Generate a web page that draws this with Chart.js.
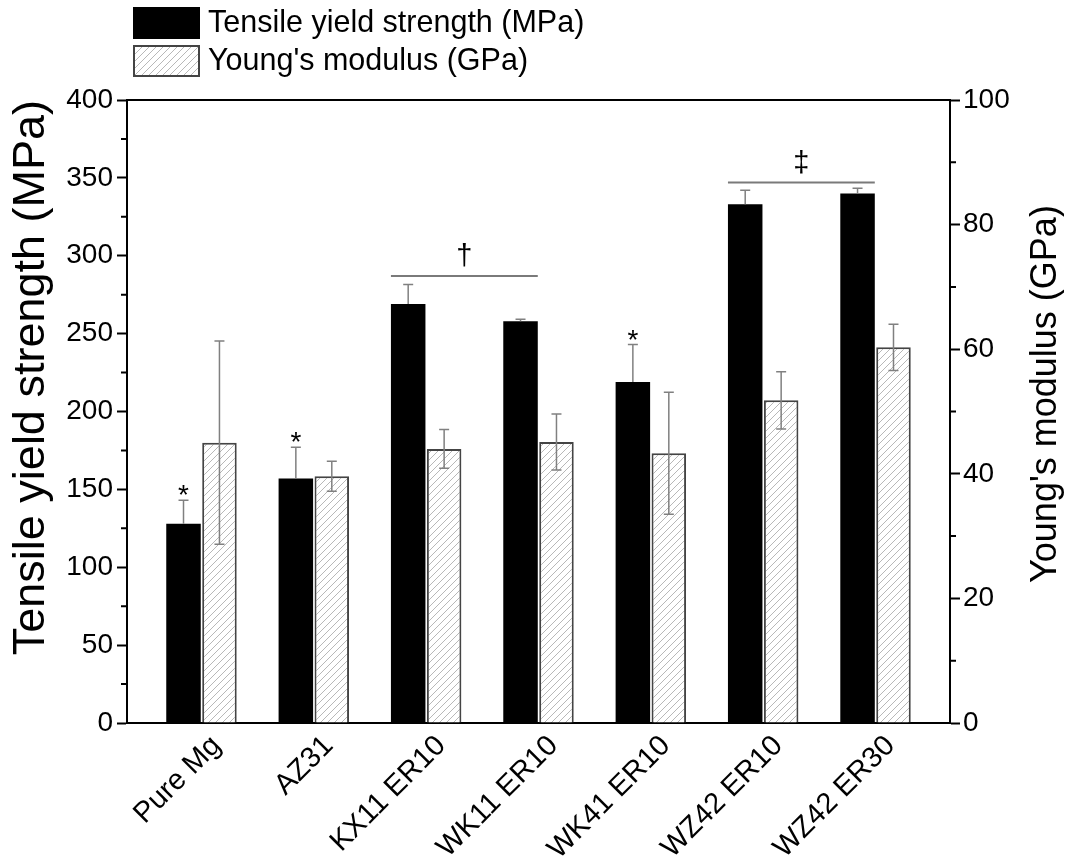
<!DOCTYPE html>
<html>
<head>
<meta charset="utf-8">
<script src="https://cdn.jsdelivr.net/npm/chart.js@4.4.0/dist/chart.umd.min.js"></script>
<style>
  html, body { margin: 0; padding: 0; background: #fff; }
  #wrap { width: 1070px; height: 860px; }
</style>
</head>
<body>
<div id="wrap"><canvas id="chart" width="1070" height="860"></canvas></div>
<script>
// data
const categories = ['Pure Mg', 'AZ31', 'KX11 ER10', 'WK11 ER10', 'WK41 ER10', 'WZ42 ER10', 'WZ42 ER30'];
const strength = [128, 157, 269, 258, 219, 333, 340];        // MPa
const strengthErr = [15, 20, 12.5, 1.3, 24, 9, 3.3];
const modulus = [45, 39.6, 44, 45.1, 43.3, 51.8, 60.3];      // GPa
const modulusErr = [16.3, 2.4, 3.1, 4.5, 9.8, 4.6, 3.7];
const starIdx = [0, 1, 4];            // '*' over strength bars
const sigFrom = [2, 5];
const sigTo = [3, 6];
const sigLevel = [287, 347];          // MPa
const sigMark = ['\u2020', '\u2021'];

const FONT = "'Liberation Sans', Arial, sans-serif";
const canvas = document.getElementById('chart');
const ctx = canvas.getContext('2d');

function makeHatch() {
  const s = 7;
  const c = document.createElement('canvas');
  c.width = s; c.height = s;
  const g = c.getContext('2d');
  g.fillStyle = '#fff';
  g.fillRect(0, 0, s, s);
  g.strokeStyle = '#b8b8b8';
  g.lineWidth = 1;
  g.beginPath();
  g.moveTo(0, s); g.lineTo(s, 0);
  g.moveTo(-1, 1); g.lineTo(1, -1);
  g.moveTo(s - 1, s + 1); g.lineTo(s + 1, s - 1);
  g.stroke();
  return ctx.createPattern(c, 'repeat');
}
const hatch = makeHatch();

const extras = {
  id: 'extras',
  afterDatasetsDraw(chart) {
    const c = chart.ctx;
    const y = chart.scales.y, y2 = chart.scales.y2;
    const area = chart.chartArea;
    const m0 = chart.getDatasetMeta(0).data;
    const m1 = chart.getDatasetMeta(1).data;
    c.save();

    // error bars
    c.strokeStyle = '#808080';
    c.lineWidth = 1.5;
    m0.forEach((b, i) => {
      const top = y.getPixelForValue(strength[i] + strengthErr[i]);
      c.beginPath();
      c.moveTo(b.x, b.y); c.lineTo(b.x, top);
      c.moveTo(b.x - 5, top); c.lineTo(b.x + 5, top);
      c.stroke();
    });
    m1.forEach((b, i) => {
      const top = y2.getPixelForValue(modulus[i] + modulusErr[i]);
      const bot = y2.getPixelForValue(modulus[i] - modulusErr[i]);
      c.beginPath();
      c.moveTo(b.x, bot); c.lineTo(b.x, top);
      c.moveTo(b.x - 5, top); c.lineTo(b.x + 5, top);
      c.moveTo(b.x - 5, bot); c.lineTo(b.x + 5, bot);
      c.stroke();
    });

    // significance marks
    c.fillStyle = '#000';
    c.textAlign = 'center';
    c.font = '28px ' + FONT;
    c.textBaseline = 'alphabetic';
    starIdx.forEach(i => {
      const b = m0[i];
      const top = y.getPixelForValue(strength[i] + strengthErr[i]);
      c.fillText('*', b.x, top + 4);
    });
    c.strokeStyle = '#7a7a7a';
    c.lineWidth = 2;
    c.font = '29px ' + FONT;
    c.textBaseline = 'bottom';
    sigFrom.forEach((f, k) => {
      const x1 = m0[f].x - m0[f].width / 2;
      const x2 = m0[sigTo[k]].x + m0[sigTo[k]].width / 2;
      const ly = y.getPixelForValue(sigLevel[k]);
      c.beginPath();
      c.moveTo(x1, ly); c.lineTo(x2, ly);
      c.stroke();
      c.fillText(sigMark[k], (x1 + x2) / 2, ly - 4);
    });

    // top frame line and minor ticks
    c.strokeStyle = '#000';
    c.lineWidth = 2;
    c.beginPath();
    c.moveTo(area.left - 1, area.top); c.lineTo(area.right + 1, area.top);
    for (let v = 25; v < 400; v += 50) {
      const p = y.getPixelForValue(v);
      c.moveTo(area.left - 6, p); c.lineTo(area.left, p);
    }
    for (let v = 10; v < 100; v += 20) {
      const p = y2.getPixelForValue(v);
      c.moveTo(area.right, p); c.lineTo(area.right + 6, p);
    }
    c.stroke();

    // right axis title (reads bottom to top)
    c.save();
    c.translate(1046, 394);
    c.rotate(-Math.PI / 2);
    c.textAlign = 'center';
    c.textBaseline = 'middle';
    c.font = '36px ' + FONT;
    c.fillText("Young's modulus (GPa)", 0, 0);
    c.restore();

    // legend
    const ds = chart.data.datasets;
    c.fillStyle = '#000';
    c.fillRect(133, 7, 67, 32);
    c.fillStyle = hatch;
    c.fillRect(134, 46, 65, 30);
    c.strokeStyle = '#444';
    c.lineWidth = 2;
    c.strokeRect(134, 46, 65, 30);
    c.fillStyle = '#000';
    c.textAlign = 'left';
    c.textBaseline = 'middle';
    c.font = '30.5px ' + FONT;
    c.fillText(ds[0].label, 208, 24);
    c.fillText(ds[1].label, 208, 62);
    c.restore();
  }
};

new Chart(canvas, {
  type: 'bar',
  data: {
    datasets: [{
      label: 'Tensile yield strength (MPa)',
      data: categories.map((c, i) => ({ x: i, y: strength[i] })),
      backgroundColor: '#000',
      borderWidth: 0,
      yAxisID: 'y',
      categoryPercentage: 0.64,
      barPercentage: 0.96
    }, {
      label: "Young's modulus (GPa)",
      data: categories.map((c, i) => ({ x: i, y: modulus[i] })),
      backgroundColor: hatch,
      borderColor: '#444',
      borderWidth: 2,
      yAxisID: 'y2',
      categoryPercentage: 0.64,
      barPercentage: 0.96
    }]
  },
  options: {
    responsive: false,
    animation: false,
    layout: { padding: { top: 100, left: 0, right: 0, bottom: 0 } },
    plugins: { legend: { display: false }, tooltip: { enabled: false } },
    scales: {
      x: {
        type: 'linear',
        offset: false,
        min: -0.663,
        max: 6.663,
        afterFit: s => { s.height = 137; },
        grid: { display: false, drawTicks: false, offset: false },
        border: { display: true, color: '#000', width: 2 },
        ticks: {
          stepSize: 1,
          includeBounds: false,
          autoSkip: false,
          minRotation: 45,
          maxRotation: 45,
          padding: 6,
          labelOffset: 15,
          color: '#000',
          font: { family: FONT, size: 29 },
          callback: v => categories[v] ?? ''
        }
      },
      y: {
        position: 'left',
        min: 0,
        max: 400,
        afterFit: s => { s.width = 127; },
        grid: { drawOnChartArea: false, tickLength: 10, tickColor: '#000', tickWidth: 2 },
        border: { display: true, color: '#000', width: 2 },
        ticks: { stepSize: 50, padding: 4, color: '#000', font: { family: FONT, size: 28 } },
        title: {
          display: true,
          text: 'Tensile yield strength (MPa)',
          align: 'end',
          color: '#000',
          font: { family: FONT, size: 45 },
          padding: { top: 5, bottom: 0 }
        }
      },
      y2: {
        position: 'right',
        min: 0,
        max: 100,
        afterFit: s => { s.width = 120; },
        grid: { drawOnChartArea: false, tickLength: 10, tickColor: '#000', tickWidth: 2 },
        border: { display: true, color: '#000', width: 2 },
        ticks: { stepSize: 20, padding: 3, color: '#000', font: { family: FONT, size: 28 } }
      }
    }
  },
  plugins: [extras]
});
</script>
</body>
</html>
